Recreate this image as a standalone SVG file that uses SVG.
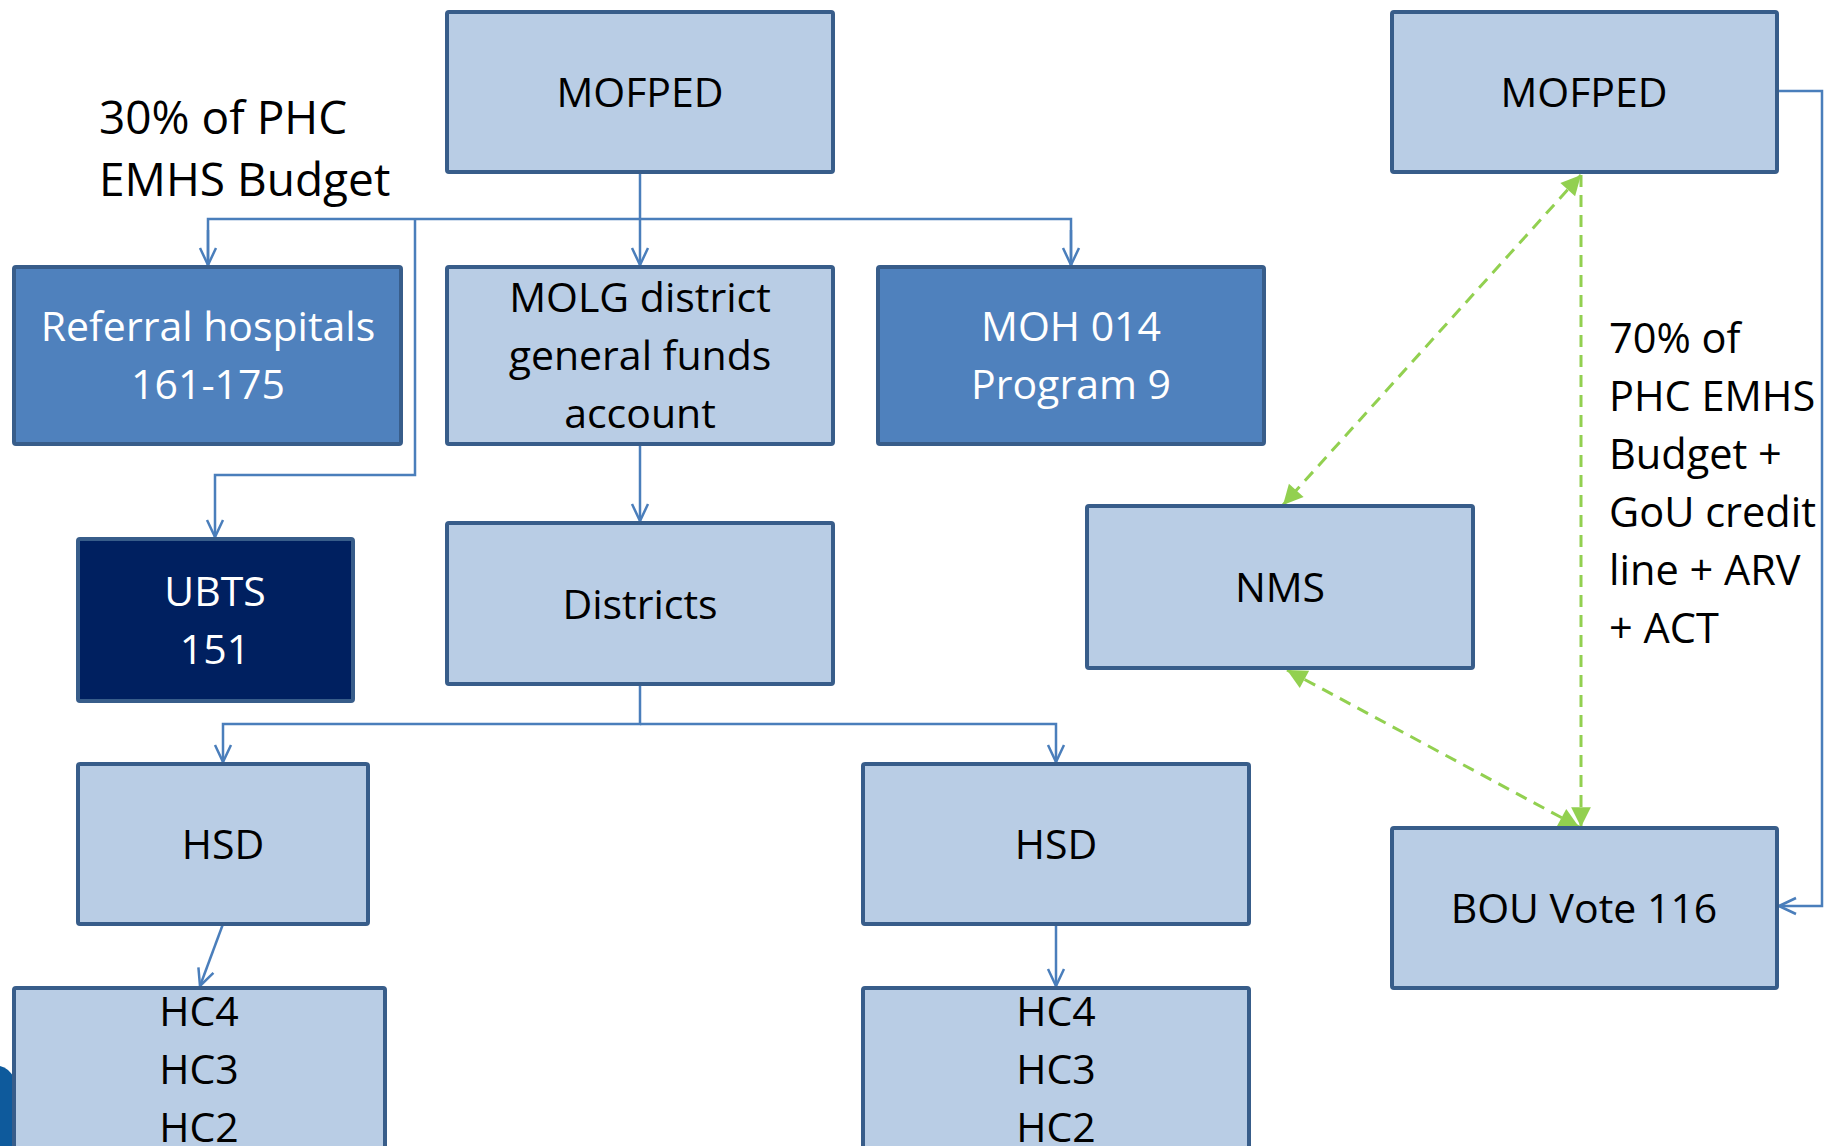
<svg xmlns="http://www.w3.org/2000/svg" width="1834" height="1146" viewBox="0 0 1834 1146">
<style>
.box{fill:#b9cde5;stroke:#385d8a;stroke-width:4}
.dark{fill:#4f81bd;stroke:#385d8a;stroke-width:4}
.navy{fill:#002060;stroke:#385d8a;stroke-width:4}
text{font-family:"Open Sans","Noto Sans","Liberation Sans",sans-serif;font-size:41px;fill:#000;text-anchor:middle}
.w{fill:#fff}
.lbl{text-anchor:start;font-size:41.5px}
.big{text-anchor:start;font-size:46px}
.con{fill:none;stroke:#4a7ebb;stroke-width:2.5}
.grn{fill:none;stroke:#92d050;stroke-width:3;stroke-dasharray:12 8}
</style>
<defs>
<marker id="a" viewBox="0 0 20 20" refX="19" refY="10" markerWidth="20" markerHeight="20" markerUnits="userSpaceOnUse" orient="auto">
<path d="M2,2 L19,10 L2,18" fill="none" stroke="#4a7ebb" stroke-width="2.5"/>
</marker>
<marker id="g" viewBox="0 0 20 20" refX="19" refY="10" markerWidth="22" markerHeight="22" markerUnits="userSpaceOnUse" orient="auto-start-reverse">
<path d="M1,1 L19,10 L1,19 Z" fill="#92d050"/>
</marker>
</defs>
<path d="M0,1066 Q9,1068 14,1078 L14,1146 L0,1146 Z" fill="#0e5a9c"/>
<g id="connectors">
<path class="con" d="M640,172 V265" marker-end="url(#a)"/>
<path class="con" d="M208,265 V219 H1071 V265" />
<path class="con" d="M208,230 V265" marker-end="url(#a)"/>
<path class="con" d="M1071,230 V265" marker-end="url(#a)"/>
<path class="con" d="M415,219 V475 H215 V537" marker-end="url(#a)"/>
<path class="con" d="M640,444 V521" marker-end="url(#a)"/>
<path class="con" d="M640,684 V724 H223 V762" marker-end="url(#a)"/>
<path class="con" d="M640,724 H1056 V762" marker-end="url(#a)"/>
<path class="con" d="M223,924 L200,986" marker-end="url(#a)"/>
<path class="con" d="M1056,924 V986" marker-end="url(#a)"/>
<path class="con" d="M1777,91 H1822 V906 H1779" marker-end="url(#a)"/>
<path class="grn" d="M1581,175 L1283,505" marker-start="url(#g)" marker-end="url(#g)"/>
<path class="grn" d="M1581,175 V827" marker-end="url(#g)"/>
<path class="grn" d="M1287,670 L1579,827" marker-start="url(#g)" marker-end="url(#g)"/>
</g>
<g id="label-30">
<text class="big" x="99" y="134">30% of PHC</text>
<text class="big" x="99" y="196">EMHS Budget</text>
</g>
<g id="label-70">
<text class="lbl" x="1609" y="353">70% of</text>
<text class="lbl" x="1609" y="411">PHC EMHS</text>
<text class="lbl" x="1609" y="469">Budget +</text>
<text class="lbl" x="1609" y="527">GoU credit</text>
<text class="lbl" x="1609" y="585">line + ARV</text>
<text class="lbl" x="1609" y="643">+ ACT</text>
</g>
<g id="mofped-left"><rect class="box" x="447" y="12" width="386" height="160" rx="2"/><text x="640" y="107">MOFPED</text></g>
<g id="mofped-right"><rect class="box" x="1392" y="12" width="385" height="160" rx="2"/><text x="1584" y="107">MOFPED</text></g>
<g id="referral"><rect class="dark" x="14" y="267" width="387" height="177" rx="2"/><text class="w" x="208" y="341">Referral hospitals</text><text class="w" x="208" y="399">161-175</text></g>
<g id="molg"><rect class="box" x="447" y="267" width="386" height="177" rx="2"/><text x="640" y="312">MOLG district</text><text x="640" y="370">general funds</text><text x="640" y="428">account</text></g>
<g id="moh"><rect class="dark" x="878" y="267" width="386" height="177" rx="2"/><text class="w" x="1071" y="341">MOH 014</text><text class="w" x="1071" y="399">Program 9</text></g>
<g id="ubts"><rect class="navy" x="78" y="539" width="275" height="162" rx="2"/><text class="w" x="215" y="606">UBTS</text><text class="w" x="215" y="664">151</text></g>
<g id="districts"><rect class="box" x="447" y="523" width="386" height="161" rx="2"/><text x="640" y="619">Districts</text></g>
<g id="nms"><rect class="box" x="1087" y="506" width="386" height="162" rx="2"/><text x="1280" y="602">NMS</text></g>
<g id="hsd-left"><rect class="box" x="78" y="764" width="290" height="160" rx="2"/><text x="223" y="859">HSD</text></g>
<g id="hsd-right"><rect class="box" x="863" y="764" width="386" height="160" rx="2"/><text x="1056" y="859">HSD</text></g>
<g id="bou"><rect class="box" x="1392" y="828" width="385" height="160" rx="2"/><text x="1584" y="923">BOU Vote 116</text></g>
<g id="hc-left"><rect class="box" x="14" y="988" width="371" height="170" rx="2"/><text x="199" y="1026">HC4</text><text x="199" y="1084">HC3</text><text x="199" y="1142">HC2</text></g>
<g id="hc-right"><rect class="box" x="863" y="988" width="386" height="170" rx="2"/><text x="1056" y="1026">HC4</text><text x="1056" y="1084">HC3</text><text x="1056" y="1142">HC2</text></g>
</svg>
